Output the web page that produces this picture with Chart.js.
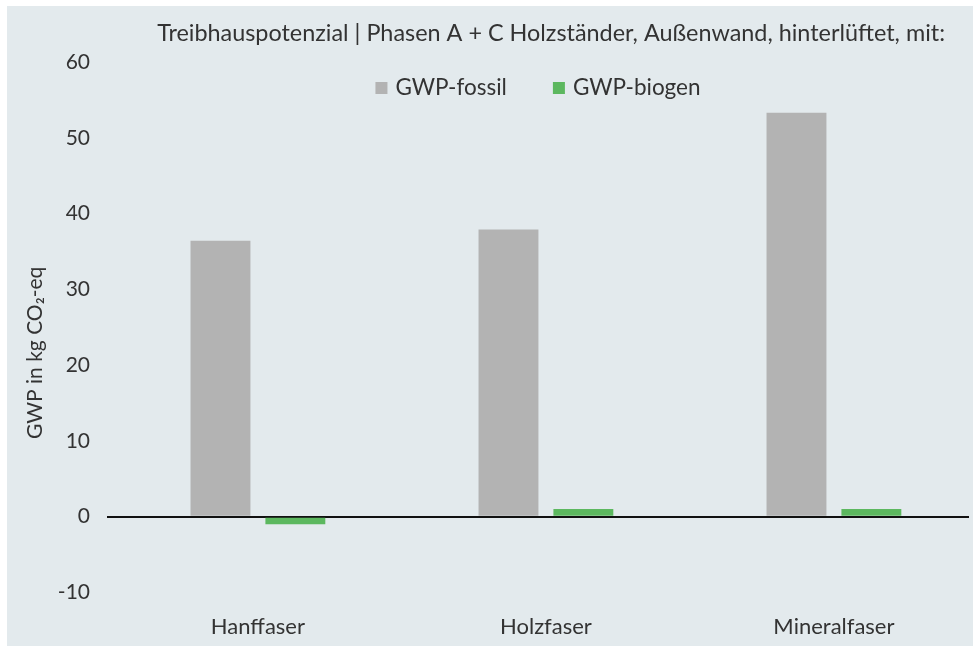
<!DOCTYPE html>
<html>
<head>
<meta charset="utf-8">
<script src="https://cdn.jsdelivr.net/npm/chart.js@4/dist/chart.umd.min.js"></script>
<style>
  html, body { margin: 0; padding: 0; background: #ffffff; overflow: hidden; }
  #wrap { position: absolute; left: 7px; top: 6px; width: 966px; height: 640px; background: #e3eaed; }
</style>
</head>
<body>
<div id="wrap"><canvas id="chart"></canvas></div>
<script>
// Categories and GWP values (kg CO2-eq)
const categories = ['Hanffaser', 'Holzfaser', 'Mineralfaser'];
const gwpFossil = [36.4, 37.9, 53.3];
const gwpBiogen = [-1.0, 1.0, 1.0];
const seriesNames = ['GWP-fossil', 'GWP-biogen'];
const seriesColors = ['#b3b3b3', '#5cb85f'];
const headline = 'Treibhauspotenzial | Phasen A + C Holzständer, Außenwand, hinterlüftet, mit:';
const yTitle = 'GWP in kg CO\u2082-eq';

const FONT = 'Lato, "Open Sans", sans-serif';
const TEXT = '#333333';

// Headline drawn above the plot, right-aligned against the plot edge
const headlinePlugin = {
  id: 'headline',
  afterDraw(chart) {
    const { ctx, chartArea } = chart;
    ctx.save();
    ctx.font = '23.4px ' + FONT;
    ctx.fillStyle = TEXT;
    ctx.textAlign = 'right';
    ctx.textBaseline = 'middle';
    ctx.fillText(headline, chartArea.right - 24, 27);
    ctx.restore();
  }
};

// Rotated y-axis caption, sitting slightly below the middle of the plot
const yCaptionPlugin = {
  id: 'yCaption',
  afterDraw(chart) {
    const { ctx, chartArea } = chart;
    ctx.save();
    ctx.translate(28, (chartArea.top + chartArea.bottom) / 2 + 18);
    ctx.rotate(-Math.PI / 2);
    ctx.font = '21px ' + FONT;
    ctx.fillStyle = TEXT;
    ctx.textAlign = 'center';
    ctx.textBaseline = 'middle';
    ctx.fillText(yTitle, 0, 0);
    ctx.restore();
  }
};

// Single-row legend laid over the top of the plot area
const inlineLegendPlugin = {
  id: 'inlineLegend',
  afterDraw(chart) {
    const { ctx, chartArea } = chart;
    const box = 12, gap = 8, itemGap = 46;
    ctx.save();
    ctx.font = '22.5px ' + FONT;
    ctx.textBaseline = 'middle';
    ctx.textAlign = 'left';
    const items = chart.data.datasets.map(ds => ({
      text: ds.label, color: ds.backgroundColor, w: ctx.measureText(ds.label).width
    }));
    const total = items.reduce((s, it) => s + box + gap + it.w, 0) + itemGap * (items.length - 1);
    let x = (chartArea.left + chartArea.right) / 2 - total / 2;
    const y = chartArea.top + 26;
    items.forEach(it => {
      ctx.fillStyle = it.color;
      ctx.fillRect(x, y - box / 2, box, box);
      ctx.fillStyle = TEXT;
      ctx.fillText(it.text, x + box + gap, y);
      x += box + gap + it.w + itemGap;
    });
    ctx.restore();
  }
};

const toPoints = arr => arr.map((v, i) => ({ x: i, y: v }));

new Chart(document.getElementById('chart'), {
  type: 'bar',
  data: {
    datasets: [
      { label: seriesNames[0], data: toPoints(gwpFossil), backgroundColor: seriesColors[0],
        categoryPercentage: 0.52, barPercentage: 0.8 },
      { label: seriesNames[1], data: toPoints(gwpBiogen), backgroundColor: seriesColors[1],
        categoryPercentage: 0.52, barPercentage: 0.8 }
    ]
  },
  options: {
    responsive: true,
    maintainAspectRatio: false,
    animation: false,
    layout: { padding: { top: 56, right: 4, bottom: 0, left: 0 } },
    plugins: {
      legend: { display: false },
      tooltip: { enabled: false }
    },
    scales: {
      x: {
        type: 'linear',
        min: -0.524,
        max: 2.469,
        offset: false,
        grid: { display: false, drawTicks: false },
        border: { display: false },
        afterBuildTicks: scale => { scale.ticks = categories.map((_, i) => ({ value: i })); },
        ticks: {
          padding: 6,
          color: TEXT,
          font: { family: FONT, size: 22 },
          callback: v => categories[v]
        }
      },
      y: {
        min: -12,
        max: 60,
        afterFit: scale => { scale.width = 100; },
        grid: {
          drawTicks: false,
          lineWidth: 2,
          color: c => (c.tick && c.tick.value === 0 ? '#111111' : 'rgba(0,0,0,0)')
        },
        border: { display: false },
        ticks: {
          stepSize: 10,
          includeBounds: false,
          padding: 17,
          color: TEXT,
          font: { family: FONT, size: 21 }
        },
        title: { display: false }
      }
    }
  },
  plugins: [headlinePlugin, yCaptionPlugin, inlineLegendPlugin]
});
</script>
</body>
</html>
